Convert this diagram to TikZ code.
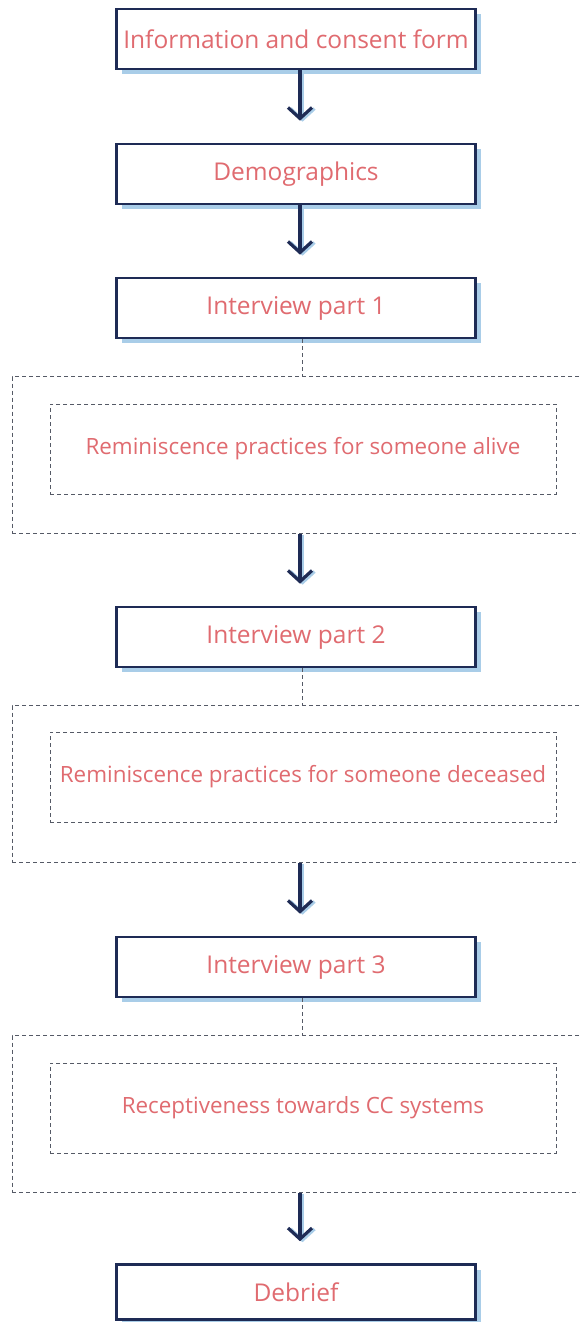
\documentclass[tikz,border=0pt]{standalone}
\usepackage{fontspec}
\setmainfont{Open Sans}
\usetikzlibrary{arrows.meta,shadows}
\definecolor{navy}{HTML}{1E2B55}
\definecolor{shblue}{HTML}{A9CDE8}
\definecolor{txt}{HTML}{E06B70}
\definecolor{dgray}{HTML}{555A66}
\begin{document}
\begin{tikzpicture}[x=1pt,y=-1pt,
  stepbox/.style={draw=navy,line width=2.6pt,fill=white,minimum width=359pt,minimum height=60pt,
    text=txt,font=\fontsize{24.5}{28}\selectfont,
    drop shadow={shadow xshift=5pt,shadow yshift=-5pt,fill=shblue,opacity=1}},
  outerbox/.style={draw=dgray,dash pattern=on 4pt off 3pt,line width=1pt,minimum width=590pt,minimum height=157pt},
  innerbox/.style={draw=dgray,dash pattern=on 4pt off 3pt,line width=1pt,minimum width=506pt,minimum height=90pt,
    text=txt,font=\fontsize{22.4}{26}\selectfont},
  link/.style={draw=dgray,dash pattern=on 4pt off 3pt,line width=1pt},
  flow/.style={draw=navy,line width=3.2pt,-{Straight Barb[length=11pt,width=24pt]},shorten >=22pt},
  flowsh/.style={draw=shblue,line width=3.2pt,-{Straight Barb[length=11pt,width=24pt]},shorten >=22pt,transform canvas={xshift=2.5pt,yshift=-1pt}}
]
\useasboundingbox (0,0) rectangle (579,1322);
\clip (0,0) rectangle (579,1322);
\fill[white] (0,0) rectangle (579,1322);

\node[stepbox] (b1) at (296,39) {Information and consent form};
\node[stepbox] (b2) at (296,174) {Demographics};
\node[stepbox] (b3) at (296,308) {Interview part 1};
\node[outerbox] (o1) at (307,455) {};
\node[innerbox] (i1) at (303,449) {Reminiscence practices for someone alive};
\node[stepbox] (b4) at (296,637) {Interview part 2};
\node[outerbox] (o2) at (307,784) {};
\node[innerbox] (i2) at (303,777) {Reminiscence practices for someone deceased};
\node[stepbox] (b5) at (296,967) {Interview part 3};
\node[outerbox] (o3) at (307,1114) {};
\node[innerbox] (i3) at (303,1108) {Receptiveness towards CC systems};
\node[stepbox,minimum height=55pt] (b6) at (296,1292) {Debrief};

\draw[link] (b3.south -| 302,0) -- (o1.north -| 302,0);
\draw[link] (b4.south -| 302,0) -- (o2.north -| 302,0);
\draw[link] (b5.south -| 302,0) -- (o3.north -| 302,0);

\foreach \a/\b in {b1/b2,b2/b3,o1/b4,o2/b5,o3/b6}{
  \draw[flowsh] (\a.south -| 300,0) -- (\b.north -| 300,0);
  \draw[flow] (\a.south -| 300,0) -- (\b.north -| 300,0);
}
\end{tikzpicture}
\end{document}
